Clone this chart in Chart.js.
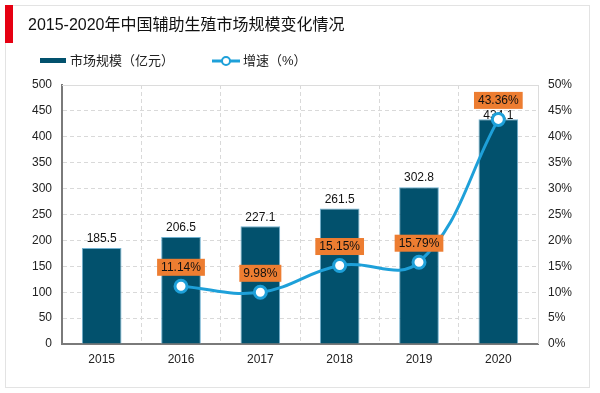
<!DOCTYPE html>
<html>
<head>
<meta charset="utf-8">
<script src="https://cdn.jsdelivr.net/npm/chart.js@4.4.0/dist/chart.umd.min.js"></script>
<style>
  html, body { margin: 0; padding: 0; background: #fff; }
  canvas { display: block; }
</style>
</head>
<body>
<canvas id="myChart" width="600" height="393"></canvas>
<script>
// data
const titleText = '2015-2020年中国辅助生殖市场规模变化情况';
const years = ['2015', '2016', '2017', '2018', '2019', '2020'];
const marketSize = [185.5, 206.5, 227.1, 261.5, 302.8, 434.1];
const growth = [null, 11.14, 9.98, 15.15, 15.79, 43.36];
const seriesNames = ['市场规模（亿元）', '增速（%）'];

const FONT = '"Liberation Sans", Arial, "Noto Sans CJK SC", sans-serif';
const BAR_COLOR = '#02516d';
const LINE_COLOR = '#1ea0d9';
const LABEL_BG = '#ed7d31';

// boxes of the orange labels, kept so the bar labels can dodge them
const growthBox = function(chart) {
    const meta = chart.getDatasetMeta(1);
    const ctx = chart.ctx;
    ctx.font = '12px ' + FONT;
    const boxes = [];
    meta.data.forEach(function(pt, i) {
        if (growth[i] == null) { boxes[i] = null; return; }
        const txt = growth[i].toFixed(2) + '%';
        const w = ctx.measureText(txt).width + 8;
        const h = 17;
        const cy = pt.y - 19;
        boxes[i] = { txt: txt, x: pt.x - w / 2, y: cy - h / 2, w: w, h: h, cx: pt.x, cy: cy };
    });
    return boxes;
};

const decor = {
    id: 'decor',
    beforeDraw: function(chart) {
        const ctx = chart.ctx;
        ctx.save();
        ctx.fillStyle = '#fff';
        ctx.fillRect(0, 0, chart.width, chart.height);
        // outer frame
        ctx.strokeStyle = '#e3e3e3';
        ctx.lineWidth = 1;
        ctx.strokeRect(5.5, 5.5, 584, 382);
        // red marker
        ctx.fillStyle = '#e60012';
        ctx.fillRect(5, 5, 8, 38);
        // title
        ctx.fillStyle = '#111';
        ctx.font = '16px ' + FONT;
        ctx.textBaseline = 'middle';
        ctx.fillText(titleText, 28, 26);
        // legend
        ctx.font = '13px ' + FONT;
        ctx.fillStyle = BAR_COLOR;
        ctx.fillRect(40, 58, 26, 5);
        ctx.fillStyle = '#222';
        ctx.fillText(seriesNames[0], 70, 61);
        ctx.strokeStyle = LINE_COLOR;
        ctx.lineWidth = 3;
        ctx.beginPath();
        ctx.moveTo(212, 61);
        ctx.lineTo(240, 61);
        ctx.stroke();
        ctx.fillStyle = '#fff';
        ctx.lineWidth = 2;
        ctx.beginPath();
        ctx.arc(226, 61, 4, 0, Math.PI * 2);
        ctx.fill();
        ctx.stroke();
        ctx.fillStyle = '#222';
        ctx.fillText(seriesNames[1], 243, 61);
        ctx.restore();
    },
    beforeDatasetsDraw: function(chart) {
        const a = chart.chartArea;
        const ctx = chart.ctx;
        ctx.save();
        ctx.strokeStyle = '#dcdcdc';
        ctx.lineWidth = 1;
        ctx.beginPath();
        ctx.moveTo(a.left, a.top + 0.5);
        ctx.lineTo(a.right + 0.5, a.top + 0.5);
        ctx.lineTo(a.right + 0.5, a.bottom);
        ctx.stroke();
        ctx.restore();
    },
    afterDatasetDraw: function(chart, args) {
        if (args.index !== 0) return;
        const ctx = chart.ctx;
        const boxes = growthBox(chart);
        ctx.save();
        ctx.font = '12px ' + FONT;
        ctx.fillStyle = '#111';
        ctx.textAlign = 'center';
        ctx.textBaseline = 'middle';
        args.meta.data.forEach(function(bar, i) {
            let y = bar.y - 9;
            const b = boxes[i];
            if (b && y + 6 > b.y && y - 6 < b.y + b.h) {
                y = b.y + b.h + 7;
            }
            ctx.fillText(marketSize[i].toFixed(1), bar.x, y);
        });
        ctx.restore();
    },
    afterDatasetsDraw: function(chart) {
        const ctx = chart.ctx;
        const boxes = growthBox(chart);
        ctx.save();
        ctx.font = '12px ' + FONT;
        ctx.textAlign = 'center';
        ctx.textBaseline = 'middle';
        boxes.forEach(function(b) {
            if (!b) return;
            ctx.fillStyle = LABEL_BG;
            ctx.fillRect(b.x, b.y, b.w, b.h);
            ctx.fillStyle = '#111';
            ctx.fillText(b.txt, b.cx, b.cy + 0.5);
        });
        ctx.restore();
    }
};

const data = {
    labels: years,
    datasets: [{
        type: 'bar',
        label: seriesNames[0],
        data: marketSize,
        yAxisID: 'y',
        backgroundColor: BAR_COLOR,
        borderColor: '#6fb0cf',
        borderWidth: 1,
        barPercentage: 0.5,
        categoryPercentage: 1,
        order: 1
    }, {
        type: 'line',
        label: seriesNames[1],
        data: growth,
        yAxisID: 'y1',
        borderColor: LINE_COLOR,
        borderWidth: 3,
        tension: 0.4,
        pointRadius: 6,
        pointBorderWidth: 3,
        pointBackgroundColor: '#fff',
        pointBorderColor: LINE_COLOR,
        order: 0
    }]
};

const tickFont = { family: FONT, size: 12 };

const options = {
    responsive: false,
    animation: false,
    layout: { padding: { left: 30, right: 12, top: 85, bottom: 19 } },
    plugins: {
        legend: { display: false },
        tooltip: { enabled: false }
    },
    scales: {
        x: {
            grid: { color: '#d9d9d9', lineWidth: 1, drawTicks: false, offset: true },
            border: { display: true, color: '#7a7a7a', width: 2, dash: [4, 3] },
            ticks: { color: '#222', font: tickFont, padding: 8 },
            afterFit: function(s) { s.height = 30; }
        },
        y: {
            position: 'left',
            min: 0,
            max: 500,
            grid: { color: '#d9d9d9', lineWidth: 1, drawTicks: false },
            border: { display: true, color: '#7a7a7a', width: 2, dash: [4, 3] },
            ticks: { stepSize: 50, color: '#222', font: tickFont, padding: 10 },
            afterFit: function(s) { s.width = 32; }
        },
        y1: {
            position: 'right',
            min: 0,
            max: 50,
            grid: { drawOnChartArea: false, drawTicks: false },
            border: { display: false },
            ticks: {
                stepSize: 5,
                color: '#222',
                font: tickFont,
                padding: 10,
                callback: function(v) { return v + '%'; }
            },
            afterFit: function(s) { s.width = 50; }
        }
    }
};

const ctx = document.getElementById('myChart');
window.chart = new Chart(ctx, {
    data: data,
    options: options,
    plugins: [decor]
});
</script>
</body>
</html>
